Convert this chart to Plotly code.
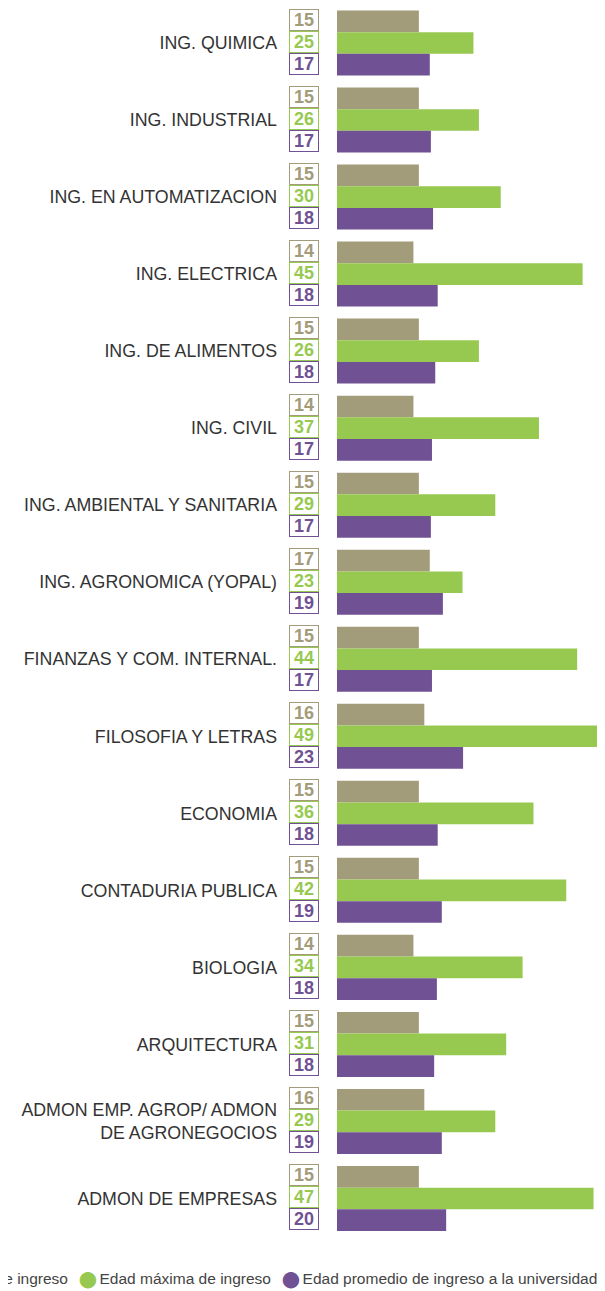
import plotly.graph_objects as go

carreras = [
    "ING. QUIMICA", "ING. INDUSTRIAL", "ING. EN AUTOMATIZACION", "ING. ELECTRICA",
    "ING. DE ALIMENTOS", "ING. CIVIL", "ING. AMBIENTAL Y SANITARIA",
    "ING. AGRONOMICA (YOPAL)", "FINANZAS Y COM. INTERNAL.", "FILOSOFIA Y LETRAS",
    "ECONOMIA", "CONTADURIA PUBLICA", "BIOLOGIA", "ARQUITECTURA",
    "ADMON EMP. AGROP/ ADMON<br>DE AGRONEGOCIOS", "ADMON DE EMPRESAS",
]
edad_minima = [15, 15, 15, 14, 15, 14, 15, 17, 15, 16, 15, 15, 14, 15, 16, 15]
edad_maxima = [25, 26, 30, 45, 26, 37, 29, 23, 44, 49, 36, 42, 34, 31, 29, 47]
edad_promedio = [17.0, 17.2, 17.6, 18.45, 18.0, 17.4, 17.2, 19.4, 17.4, 23.1,
                 18.45, 19.2, 18.3, 17.8, 19.2, 20.0]

series = [
    ("Edad mínima de ingreso", edad_minima, "#a39c7b", 22),
    ("Edad máxima de ingreso", edad_maxima, "#97c950", 0),
    ("Edad promedio de ingreso a la universidad", edad_promedio, "#705194", -22),
]

FUENTE = "Liberation Sans"

fig = go.Figure()
for nombre, valores, color, _ in series:
    fig.add_trace(go.Bar(
        y=carreras, x=valores, name=nombre, orientation="h",
        marker=dict(color=color, line=dict(width=0)),
        showlegend=False, hoverinfo="x+y",
    ))

# cajitas con el valor redondeado a la izquierda de cada barra
anotaciones = []
for nombre, valores, color, desplaz in series:
    for cat, v in zip(carreras, valores):
        anotaciones.append(dict(
            text=f"<b>{v:.0f}</b>", xref="paper", x=0, xanchor="right", xshift=-18,
            yref="y", y=cat, yshift=desplaz + 1, showarrow=False,
            font=dict(family=FUENTE, size=18, color=color),
            bordercolor=color, borderwidth=1, borderpad=0,
            width=28, height=20, bgcolor="white",
        ))

# leyenda (se sale por la izquierda como en el original)
partes = []
for nombre, _, color, _ in series:
    partes.append(
        f"<span style='color:{color};font-size:38px;baseline-shift:-7px'>●</span>{nombre}"
    )
anotaciones.append(dict(
    text="  ".join(partes), xref="paper", x=1, xanchor="right", xshift=-6,
    yref="paper", y=0, yanchor="middle", yshift=-41, showarrow=False,
    font=dict(family=FUENTE, size=15.5, color="#444444"),
))

# la página añade 8 px de margen: figura algo menor para que cuadre
fig.update_layout(
    width=597, height=1283,
    margin=dict(l=329, r=0, t=0, b=53.5),
    barmode="group", bargap=0.156, bargroupgap=0,
    paper_bgcolor="white", plot_bgcolor="white",
    font=dict(family=FUENTE, color="#333333"),
    xaxis=dict(range=[0, 49.1], visible=False, fixedrange=True),
    yaxis=dict(
        type="category", range=[15.5, -0.454], showgrid=False, showline=False,
        ticks="", ticklabelstandoff=59, tickfont=dict(size=17.8, color="#333333"),
        fixedrange=True,
    ),
    annotations=anotaciones,
)

fig.write_html("out.html")
